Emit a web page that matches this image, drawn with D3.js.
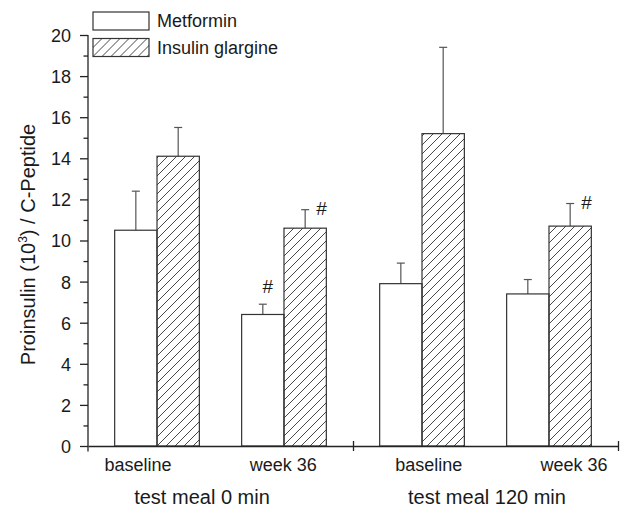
<!DOCTYPE html>
<html>
<head>
<meta charset="utf-8">
<script src="https://cdn.jsdelivr.net/npm/d3@7"></script>
<style>
  body { margin: 0; background: #fff; }
  svg text { font-family: "Liberation Sans", Arial, sans-serif; fill: #1a1a1a; }
</style>
</head>
<body>
<svg width="635" height="507"></svg>
<script>
// data
const meals = ["test meal 0 min", "test meal 120 min"];
const times = ["baseline", "week 36"];
const series = ["Metformin", "Insulin glargine"];
// mean values per meal, per time: [metformin, glargine]
const means = [
    [[10.5, 14.1], [6.4, 10.6]],
    [[7.9, 15.2], [7.4, 10.7]]
];
// upper end of the error bars
const errTops = [
    [[12.4, 15.5], [6.9, 11.5]],
    [[8.9, 19.4], [8.1, 11.8]]
];
// "#" significance marks: [meal, time, series]
const marks = [[0, 1, 0], [0, 1, 1], [1, 1, 1]];
const yTicks = [0, 2, 4, 6, 8, 10, 12, 14, 16, 18, 20];

const svg = d3.select("svg");
const margin = {left: 88, right: 17, top: 35, bottom: 61};
const width = 635, height = 507;

// flatten into rows
const rows = [];
meals.forEach((m, mi) => times.forEach((t, ti) => series.forEach((s, si) => {
    rows.push({meal: m, time: t, series: s, mi, ti, si,
        value: means[mi][ti][si], err: errTops[mi][ti][si]});
})));

const y = d3.scaleLinear().domain([0, 20]).range([height - margin.bottom, margin.top]);
const xMeal = d3.scaleBand().domain(meals).range([margin.left, width - margin.right]);
const xTime = d3.scaleBand().domain(times).range([0, xMeal.bandwidth()])
    .paddingInner(0.333).paddingOuter(0.21);
const xSeries = d3.scaleBand().domain(series).range([0, xTime.bandwidth()]);
const barX = d => xMeal(d.meal) + xTime(d.time) + xSeries(d.series);
const barC = d => barX(d) + xSeries.bandwidth() / 2;

// hatch pattern
const defs = svg.append("defs");
defs.append("pattern")
    .attr("id", "hatch")
    .attr("patternUnits", "userSpaceOnUse")
    .attr("width", 9).attr("height", 9)
    .append("path")
    .attr("d", "M-1,1 l2,-2 M0,9 l9,-9 M8,10 l2,-2")
    .attr("stroke", "#333")
    .attr("stroke-width", 0.9);

const fill = s => s === series[0] ? "#fff" : "url(#hatch)";

// error bars (behind bars)
const eb = svg.append("g").attr("stroke", "#555").attr("stroke-width", 1.2);
eb.selectAll("line.v").data(rows).join("line")
    .attr("class", "v")
    .attr("x1", barC).attr("x2", barC)
    .attr("y1", d => y(d.value)).attr("y2", d => y(d.err));
eb.selectAll("line.cap").data(rows).join("line")
    .attr("class", "cap")
    .attr("x1", d => barC(d) - 4).attr("x2", d => barC(d) + 4)
    .attr("y1", d => y(d.err)).attr("y2", d => y(d.err));

// bars
svg.append("g").selectAll("rect").data(rows).join("rect")
    .attr("x", barX)
    .attr("y", d => y(d.value))
    .attr("width", xSeries.bandwidth())
    .attr("height", d => y(0) - y(d.value))
    .attr("fill", d => fill(d.series))
    .attr("stroke", "#333")
    .attr("stroke-width", 1.2);

// # marks
const markRow = d => rows.find(r => r.mi === d[0] && r.ti === d[1] && r.si === d[2]);
svg.append("g").selectAll("text").data(marks).join("text")
    .attr("font-size", 19)
    .attr("text-anchor", d => d[2] === 0 ? "middle" : "start")
    .attr("x", d => d[2] === 0 ? barC(markRow(d)) + 5 : barC(markRow(d)) + 11)
    .attr("y", d => d[2] === 0 ? y(markRow(d).err) - 11 : y(markRow(d).err) + 5)
    .text("#");

// y axis
const yAxis = svg.append("g")
    .attr("transform", `translate(${margin.left},0)`)
    .call(d3.axisLeft(y).tickValues(yTicks).tickSize(8).tickSizeOuter(0).tickPadding(9));
yAxis.selectAll("text").attr("font-size", 18).attr("dy", "0.36em");
yAxis.call(g => g.select(".domain").attr("d", `M0,${margin.top}V${y(0) + 5.5}`));
svg.append("g")
    .attr("transform", `translate(${margin.left},0)`)
    .call(d3.axisLeft(y).tickValues(d3.range(1, 20, 2)).tickSize(4.5).tickFormat(""))
    .call(g => g.select(".domain").remove());
svg.selectAll(".tick line, .domain").attr("stroke", "#222").attr("stroke-width", 1.3);

// x axis with group boundary ticks
const xLine = d3.scaleLinear().domain([0, meals.length]).range(xMeal.range());
const xAxis = svg.append("g")
    .attr("transform", `translate(0,${y(0)})`)
    .call(d3.axisBottom(xLine).tickValues([1, 2]).tickSizeOuter(0).tickFormat(""));
xAxis.selectAll(".tick line").attr("y1", -5).attr("y2", 5);
xAxis.selectAll(".tick line, .domain").attr("stroke", "#222").attr("stroke-width", 1.3);

// category labels
const labelX = d3.scalePoint()
    .domain(d3.range(meals.length * times.length))
    .range([margin.left + 50, width - margin.right - 44]);
svg.append("g").selectAll("text")
    .data(d3.cross(meals, times))
    .join("text")
    .attr("x", (d, i) => labelX(i))
    .attr("y", height - 36)
    .attr("text-anchor", "middle")
    .attr("font-size", 18)
    .text(d => d[1]);

const mealX = d3.scalePoint().domain(meals)
    .range([margin.left + 114, width - margin.right - 131]);
svg.append("g").selectAll("text").data(meals).join("text")
    .attr("x", d => mealX(d))
    .attr("y", height - 3)
    .attr("text-anchor", "middle")
    .attr("font-size", 20)
    .text(d => d);

// y label
const yl = svg.append("text")
    .attr("transform", `translate(35,${(margin.top + y(0)) / 2 + 4}) rotate(-90)`)
    .attr("text-anchor", "middle")
    .attr("font-size", 20);
yl.append("tspan").text("Proinsulin (10");
yl.append("tspan").attr("font-size", 12).attr("dy", -8).text("3");
yl.append("tspan").attr("dy", 8).text(") / C-Peptide");

// legend
const legend = svg.append("g").selectAll("g").data(series).join("g")
    .attr("transform", (d, i) => `translate(93,${12 + i * 26.5})`);
legend.append("rect")
    .attr("width", 56).attr("height", 18)
    .attr("fill", fill)
    .attr("stroke", "#333").attr("stroke-width", 1.2);
legend.append("text")
    .attr("x", 64).attr("y", 9)
    .attr("dy", "0.36em")
    .attr("font-size", 18)
    .text(d => d);
</script>
</body>
</html>
